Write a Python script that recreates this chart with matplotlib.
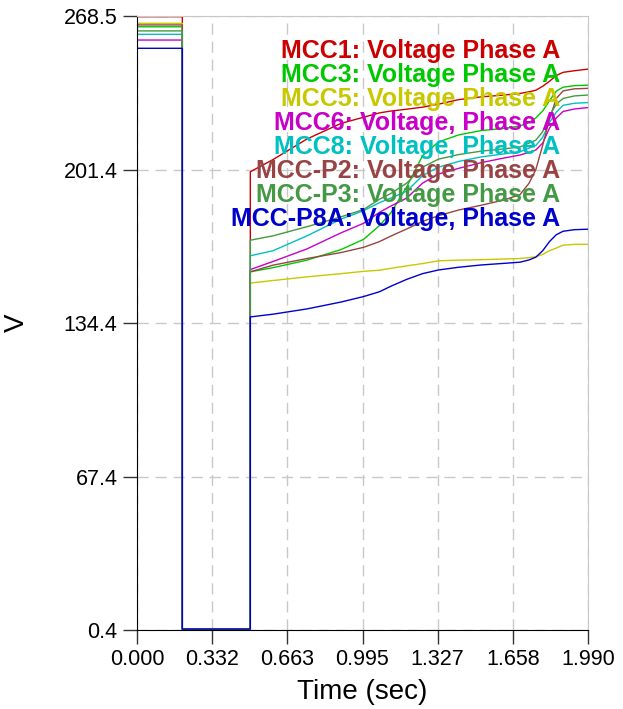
import matplotlib
matplotlib.use("Agg")
import matplotlib.pyplot as plt
import numpy as np

# === Data ===
names = ["MCC1: Voltage Phase A", "MCC3: Voltage Phase A", "MCC5: Voltage Phase A",
         "MCC6: Voltage, Phase A", "MCC8: Voltage, Phase A", "MCC-P2: Voltage Phase A",
         "MCC-P3: Voltage Phase A", "MCC-P8A: Voltage, Phase A"]
colors = ["#cc0000", "#00c800", "#c8c800", "#c800c8", "#00c0c0", "#994444", "#449944", "#0000cc"]

fault_start = 0.2
fault_end = 0.5
fault_v = 0.8

# steady state before the fault (V)
pre_fault = [268.2, 263.8, 265.3, 258.0, 260.5, 264.6, 262.0, 254.4]

# recovery after the fault clears
t_post = [0.5, 0.6, 0.75, 0.9, 1.0, 1.07, 1.12, 1.19, 1.26, 1.33, 1.42, 1.52,
          1.62, 1.69, 1.73, 1.76, 1.79, 1.82, 1.85, 1.88, 1.93, 1.99]

mcc1 = [200.5, 205.8, 214.8, 221.6, 224.3, 226.2, 227.0, 227.8, 228.7, 230.0, 232.0, 233.2,
        234.0, 234.7, 235.4, 236.1, 237.8, 240.0, 242.5, 243.9, 244.6, 245.3]
mcc3 = [156.8, 158.6, 161.9, 166.5, 171.0, 177.0, 182.5, 193.9, 207.5, 213.5, 216.6, 218.5,
        219.4, 220.5, 222.0, 224.0, 227.0, 231.5, 235.7, 237.4, 238.1, 238.3]
mcc5 = [151.9, 153.0, 154.6, 156.0, 157.0, 157.5, 158.3, 159.4, 160.4, 161.6, 161.9, 162.1,
        162.4, 162.6, 163.0, 163.4, 164.4, 166.0, 167.2, 168.4, 168.8, 168.8]
mcc6 = [157.8, 161.3, 166.8, 173.8, 178.0, 182.8, 185.5, 189.0, 195.5, 199.5, 202.0, 204.5,
        206.5, 207.8, 209.0, 210.0, 213.0, 219.5, 224.0, 226.8, 227.9, 228.5]
mcc8 = [163.8, 166.0, 172.5, 179.8, 183.5, 187.0, 189.0, 192.0, 198.8, 202.5, 205.0, 207.0,
        208.3, 209.2, 210.8, 212.0, 215.5, 222.0, 226.5, 229.5, 230.4, 230.7]
mcc_p2 = [156.8, 159.7, 162.6, 165.2, 167.5, 170.0, 172.4, 175.5, 178.8, 181.3, 183.8, 185.9,
          188.2, 190.5, 195.5, 201.5, 212.0, 223.5, 232.5, 235.8, 236.7, 236.9]
mcc_p3 = [170.6, 172.5, 176.5, 180.8, 184.0, 188.5, 191.0, 195.5, 202.5, 206.0, 208.0, 209.5,
          210.5, 211.3, 213.0, 214.3, 218.0, 225.0, 230.0, 232.5, 233.6, 234.0]
mcc_p8a = [137.1, 138.3, 140.6, 143.6, 146.0, 148.1, 150.5, 153.5, 156.0, 157.6, 158.8, 159.8,
           160.5, 161.0, 162.0, 163.2, 166.0, 170.0, 173.0, 174.5, 175.2, 175.4]

post = [mcc1, mcc3, mcc5, mcc6, mcc8, mcc_p2, mcc_p3, mcc_p8a]

y_ticks = [0.4, 67.4, 134.4, 201.4, 268.5]
x_ticks = ["0.000", "0.332", "0.663", "0.995", "1.327", "1.658", "1.990"]

# === Chart ===
plt.rcParams['font.family'] = ['Liberation Sans', 'DejaVu Sans']
fig = plt.figure(figsize=(6.23, 7.09), dpi=100)
ax = fig.add_axes([137 / 623, 1 - 630 / 709, 451 / 623, 614 / 709])

for pre, vals, c in zip(pre_fault, post, colors):
    t = np.concatenate([[0.0, fault_start, fault_start, fault_end], t_post])
    v = np.concatenate([[pre, pre, fault_v, fault_v], vals])
    ax.plot(t, v, color=c, linewidth=1.0)

ax.set_xlim(0, 1.99)
ax.set_ylim(0.4, 268.5)
ax.set_xticks([float(s) for s in x_ticks])
ax.set_xticklabels(x_ticks)
ax.set_yticks(y_ticks)
ax.set_yticklabels(["%.1f" % v for v in y_ticks])
ax.tick_params(labelsize=15.5, length=10, width=1, color="#333333", pad=4)

ax.grid(True, linestyle=(0, (8, 5)), color="#c8c8c8", linewidth=1.0)
ax.set_axisbelow(True)

ax.spines['left'].set_color('black')
ax.spines['bottom'].set_color('black')
ax.spines['top'].set_color('#c8c8c8')
ax.spines['right'].set_color('#c8c8c8')

ax.set_xlabel("Time (sec)", fontsize=20, labelpad=6)
ax.set_ylabel("V", fontsize=20)
ax.yaxis.set_label_coords(-0.237, 0.5)

# text-only legend, right aligned in series colours
for i, (name, c) in enumerate(zip(names, colors)):
    ax.text(0.938, 0.943 - i * 0.0391, name, transform=ax.transAxes, ha='right', va='center',
            fontsize=18, fontweight='bold', color=c)

fig.savefig("out.png", dpi=100)
